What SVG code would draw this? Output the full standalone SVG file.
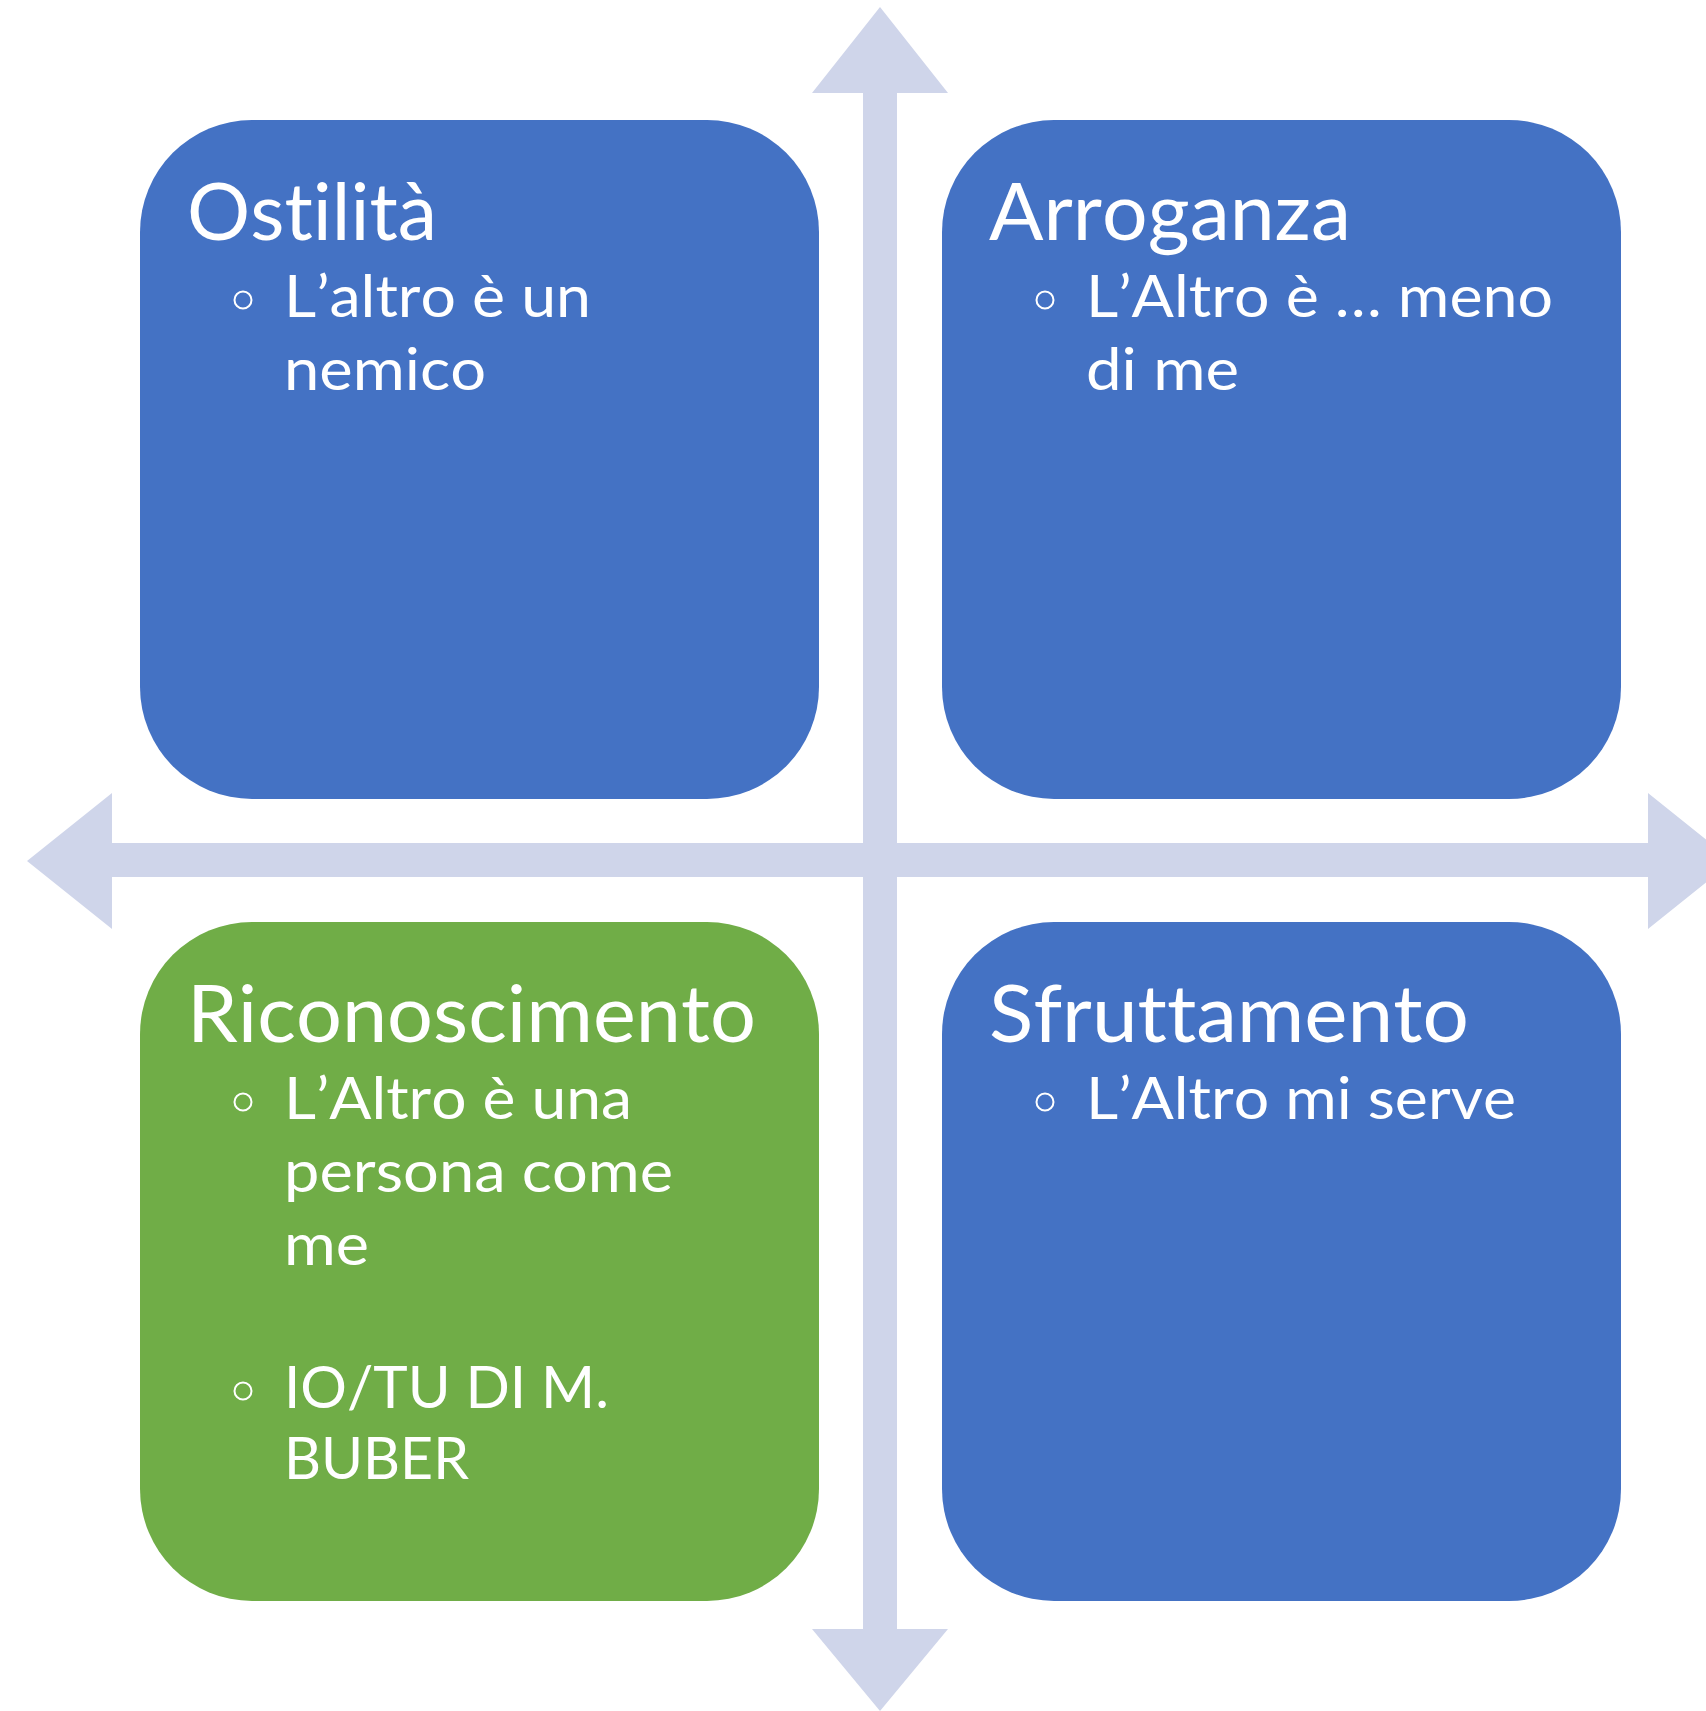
<svg xmlns="http://www.w3.org/2000/svg" width="1706" height="1711" viewBox="0 0 1706 1711">
<style>
.box-blue{fill:#4472C4}
.box-green{fill:#70AD47}
.arrow{fill:#CFD5EA}
.title,.item{font-family:Lato,"Liberation Sans",sans-serif;fill:#FFFFFF;font-variant-ligatures:none;font-feature-settings:"liga" 0,"clig" 0;font-kerning:none}
.title{font-size:79px}
.item{font-size:59px}
.bullet{fill:none;stroke:#FFFFFF;stroke-width:2}
</style>
<rect width="1706" height="1711" fill="#FFFFFF"/>
<g id="connectors">
<polygon class="arrow" points="880,7 948,93 897,93 897,1629 948,1629 880,1711 812,1629 863,1629 863,93 812,93"/>
<polygon class="arrow" points="27,861 112,793 112,843 1648,843 1648,793 1733,861 1648,929 1648,877 112,877 112,929"/>
</g>
<g id="node-ostilita">
<rect class="box-blue" x="140" y="120" width="679" height="679" rx="112" ry="112"/>
<text class="title" x="187" y="240" textLength="250" lengthAdjust="spacingAndGlyphs">Ostilità</text>
<circle class="bullet" cx="243" cy="300" r="8.5"/>
<text class="item" x="284" y="317" textLength="307" lengthAdjust="spacingAndGlyphs">L’altro è un</text>
<text class="item" x="284" y="390" textLength="202" lengthAdjust="spacingAndGlyphs">nemico</text>
</g>
<g id="node-arroganza">
<rect class="box-blue" x="942" y="120" width="679" height="679" rx="112" ry="112"/>
<text class="title" x="989" y="240" textLength="362" lengthAdjust="spacingAndGlyphs">Arroganza</text>
<circle class="bullet" cx="1045" cy="300" r="8.5"/>
<text class="item" x="1086" y="317" textLength="467" lengthAdjust="spacingAndGlyphs">L’Altro è … meno</text>
<text class="item" x="1086" y="390" textLength="153" lengthAdjust="spacingAndGlyphs">di me</text>
</g>
<g id="node-riconoscimento">
<rect class="box-green" x="140" y="922" width="679" height="679" rx="112" ry="112"/>
<text class="title" x="187" y="1042" textLength="569" lengthAdjust="spacingAndGlyphs">Riconoscimento</text>
<circle class="bullet" cx="243" cy="1102" r="8.5"/>
<text class="item" x="284" y="1119" textLength="348" lengthAdjust="spacingAndGlyphs">L’Altro è una</text>
<text class="item" x="284" y="1192" textLength="389" lengthAdjust="spacingAndGlyphs">persona come</text>
<text class="item" x="284" y="1265" textLength="85" lengthAdjust="spacingAndGlyphs">me</text>
<circle class="bullet" cx="243" cy="1391" r="8.5"/>
<text class="item" x="284" y="1408" textLength="325" lengthAdjust="spacingAndGlyphs">IO/TU DI M.</text>
<text class="item" x="284" y="1479" textLength="185" lengthAdjust="spacingAndGlyphs">BUBER</text>
</g>
<g id="node-sfruttamento">
<rect class="box-blue" x="942" y="922" width="679" height="679" rx="112" ry="112"/>
<text class="title" x="989" y="1042" textLength="480" lengthAdjust="spacingAndGlyphs">Sfruttamento</text>
<circle class="bullet" cx="1045" cy="1102" r="8.5"/>
<text class="item" x="1086" y="1119" textLength="430" lengthAdjust="spacingAndGlyphs">L’Altro mi serve</text>
</g>
</svg>
